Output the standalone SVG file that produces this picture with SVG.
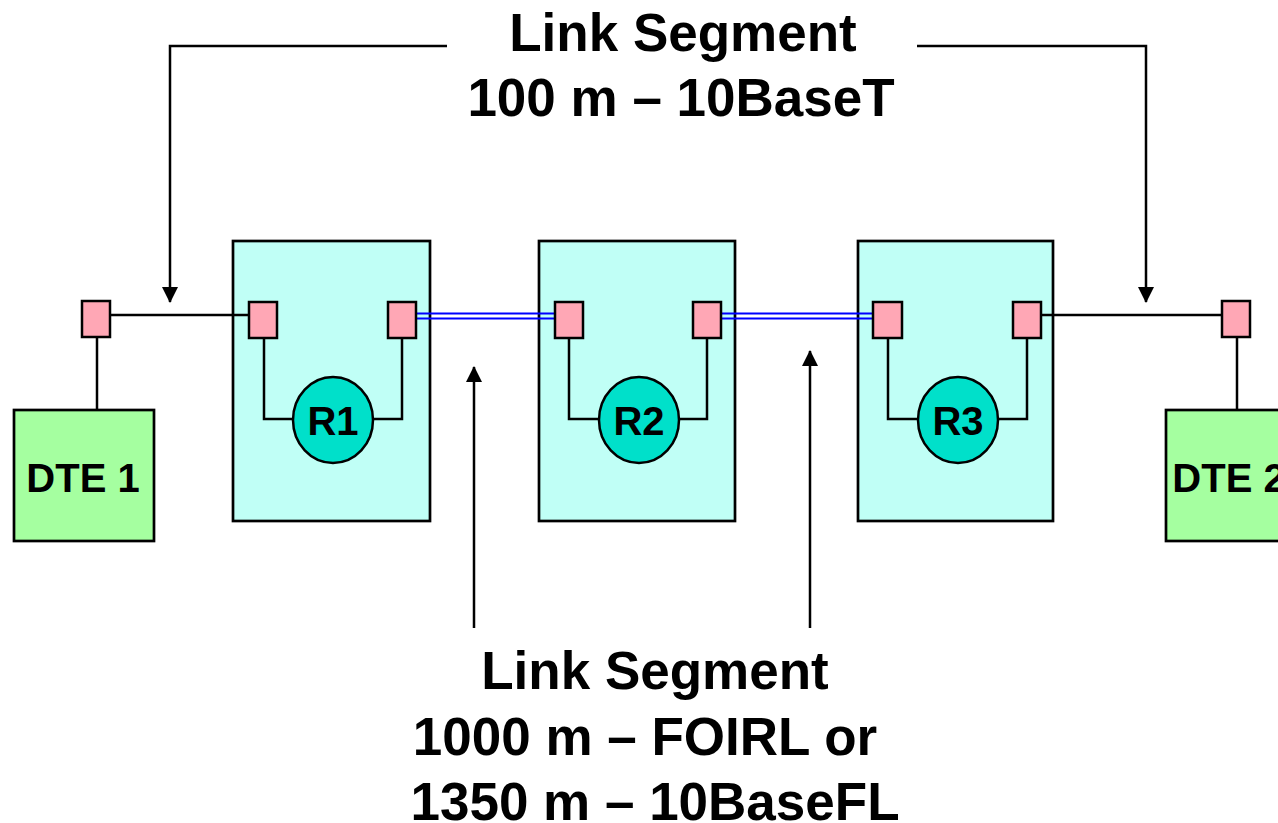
<svg xmlns="http://www.w3.org/2000/svg" width="1278" height="823" viewBox="0 0 1278 823">
<style>
.box{fill:#C0FFF6;stroke:#000;stroke-width:2.7}
.port{fill:#FFA7B5;stroke:#000;stroke-width:2.5}
.rep{fill:#00E0CA;stroke:#000;stroke-width:2.5}
.dte{fill:#A5FFA0;stroke:#000;stroke-width:2.7}
.ln{fill:none;stroke:#000;stroke-width:2.5}
.fib{fill:none;stroke:#0000FF;stroke-width:2.2}
.arr{fill:none;stroke:#000;stroke-width:2.5}
text{font-family:"Liberation Sans",Arial,sans-serif;font-weight:bold;fill:#000;text-anchor:middle}
.big{font-size:53px}
.mid{font-size:40px}
</style>
<defs>
<marker id="ah" markerUnits="userSpaceOnUse" markerWidth="16" markerHeight="16" viewBox="0 0 16 16" refX="15" refY="8" orient="auto">
<path d="M0,0 L16,8 L0,16 Z" fill="#000"/>
</marker>
</defs>
<rect width="1278" height="823" fill="#fff"/>

<g id="dte1">
<rect class="dte" x="14" y="410" width="140" height="131"/>
<text class="mid" x="83" y="492">DTE 1</text>
</g>
<g id="dte2">
<rect class="dte" x="1166" y="410" width="140" height="131"/>
<text class="mid" x="1229" y="492">DTE 2</text>
</g>

<g id="r1box"><rect class="box" x="233" y="241" width="197" height="280"/></g>
<g id="r2box"><rect class="box" x="539" y="241" width="196" height="280"/></g>
<g id="r3box"><rect class="box" x="858" y="241" width="195" height="280"/></g>

<g id="connectors">
<path class="ln" d="M110,315 H249"/>
<path class="ln" d="M1041,315 H1222"/>
<path class="ln" d="M97,337 V410"/>
<path class="ln" d="M1237,337 V410"/>
<path class="ln" d="M264,338 V419 H293 M373,419 H402 V338"/>
<path class="ln" d="M569,338 V419 H599 M679,419 H707 V338"/>
<path class="ln" d="M888,338 V419 H918 M998,419 H1027 V338"/>
<path class="fib" d="M416,313.5 H555 M416,318.5 H555"/>
<path class="fib" d="M721,313.5 H873 M721,318.5 H873"/>
<path class="arr" d="M447,46 H170 V302" marker-end="url(#ah)"/>
<path class="arr" d="M917,46 H1146 V302" marker-end="url(#ah)"/>
<path class="arr" d="M474,628 V367" marker-end="url(#ah)"/>
<path class="arr" d="M810,628 V351" marker-end="url(#ah)"/>
</g>

<g id="p0"><rect class="port" x="82" y="301" width="28" height="36"/></g>
<g id="p1"><rect class="port" x="249" y="302" width="28" height="36"/></g>
<g id="p2"><rect class="port" x="388" y="302" width="28" height="36"/></g>
<g id="p3"><rect class="port" x="555" y="302" width="28" height="36"/></g>
<g id="p4"><rect class="port" x="693" y="302" width="28" height="36"/></g>
<g id="p5"><rect class="port" x="873" y="302" width="29" height="36"/></g>
<g id="p6"><rect class="port" x="1013" y="302" width="28" height="36"/></g>
<g id="p7"><rect class="port" x="1222" y="301" width="28" height="36"/></g>

<g id="r1">
<ellipse class="rep" cx="333" cy="420" rx="40" ry="43"/>
<text class="mid" x="333" y="435">R1</text>
</g>
<g id="r2">
<ellipse class="rep" cx="639" cy="420" rx="40" ry="43"/>
<text class="mid" x="639" y="435">R2</text>
</g>
<g id="r3">
<ellipse class="rep" cx="958" cy="420" rx="40" ry="43"/>
<text class="mid" x="958" y="435">R3</text>
</g>

<g id="label-top">
<text class="big" x="683" y="51">Link Segment</text>
<text class="big" x="681" y="116">100 m – 10BaseT</text>
</g>
<g id="label-bottom">
<text class="big" x="655" y="689">Link Segment</text>
<text class="big" x="645" y="755">1000 m – FOIRL or</text>
<text class="big" x="655" y="820">1350 m – 10BaseFL</text>
</g>
</svg>
